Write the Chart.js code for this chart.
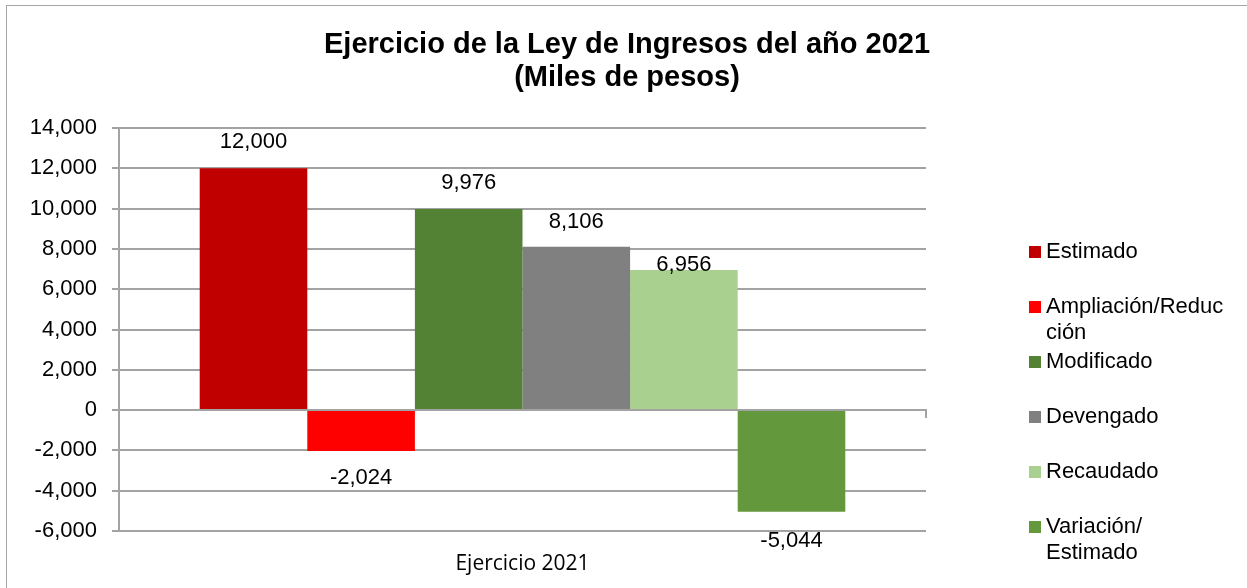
<!DOCTYPE html>
<html lang="es">
<head>
<meta charset="UTF-8">
<title>Ejercicio de la Ley de Ingresos 2021</title>
<style>
    body {
        margin: 0;
        background: #fff;
        overflow: hidden;
    }
    .frame {
        position: absolute;
        left: 6px;
        top: 5px;
        width: 1240px;
        height: 582px;
        border: 1px solid #a6a6a6;
        background: #fff;
    }
</style>
</head>
<body>
<div class="frame">
    <canvas id="chart" width="1240" height="582"></canvas>
</div>
<script src="https://cdn.jsdelivr.net/npm/chart.js"></script>
<script>
    // data
    const chartTitle = ['Ejercicio de la Ley de Ingresos del año 2021', '(Miles de pesos)'];
    const categories = ['Ejercicio 2021'];
    const seriesNames = ['Estimado', 'Ampliación/Reducción', 'Modificado', 'Devengado', 'Recaudado', 'Variación/ Estimado'];
    const seriesValues = [12000, -2024, 9976, 8106, 6956, -5044];
    const seriesColors = ['#C00000', '#FF0000', '#548235', '#808080', '#A9D08E', '#63983D'];
    const yTicks = { min: -6000, max: 14000, step: 2000 };

    const fmt = v => Number(v).toLocaleString('en-US');
    const gridGray = '#a3a3a3';
    const textFont = '"Liberation Sans", Arial, sans-serif';

    // title across the whole frame, not only the plot
    const frameTitle = {
        id: 'frameTitle',
        afterDraw(chart) {
            const ctx = chart.ctx;
            ctx.save();
            ctx.font = 'bold 29px ' + textFont;
            ctx.fillStyle = '#000';
            ctx.textAlign = 'center';
            ctx.textBaseline = 'middle';
            chartTitle.forEach((line, i) => ctx.fillText(line, chart.width / 2, 39 + i * 33));
            ctx.restore();
        }
    };

    // value labels above / below each bar
    const valueLabels = {
        id: 'valueLabels',
        afterDatasetsDraw(chart) {
            const ctx = chart.ctx;
            const gap = [26, 27, 26, 25, 5, 29];
            ctx.save();
            ctx.font = '22px ' + textFont;
            ctx.fillStyle = '#000';
            ctx.textAlign = 'center';
            ctx.textBaseline = 'middle';
            chart.data.datasets.forEach((ds, i) => {
                const bar = chart.getDatasetMeta(i).data[0];
                const v = ds.data[0];
                const y = v >= 0 ? bar.y - gap[i] : bar.y + gap[i];
                ctx.fillText(fmt(v), bar.x, y);
            });
            ctx.restore();
        }
    };

    // small tick where the category axis meets zero on the right
    const zeroTick = {
        id: 'zeroTick',
        afterDraw(chart) {
            const ctx = chart.ctx;
            const y0 = chart.scales.y.getPixelForValue(0);
            const x = chart.chartArea.right;
            ctx.save();
            ctx.strokeStyle = gridGray;
            ctx.lineWidth = 2;
            ctx.beginPath();
            ctx.moveTo(x, y0 - 1);
            ctx.lineTo(x, y0 + 8);
            ctx.stroke();
            ctx.restore();
        }
    };

    // right side legend, text wrapped like the original
    function wrap(ctx, text, maxW) {
        const lines = [];
        let cur = '';
        text.split(' ').forEach(word => {
            const tryLine = cur ? cur + ' ' + word : word;
            if (ctx.measureText(tryLine).width <= maxW) {
                cur = tryLine;
                return;
            }
            if (cur) lines.push(cur);
            cur = '';
            for (const ch of word) {
                if (ctx.measureText(cur + ch).width > maxW) {
                    lines.push(cur);
                    cur = ch;
                } else {
                    cur += ch;
                }
            }
        });
        if (cur) lines.push(cur);
        return lines;
    }

    const sideLegend = {
        id: 'sideLegend',
        afterDraw(chart) {
            const ctx = chart.ctx;
            const boxX = 1022, textX = 1039, top = 246, step = 55, lineH = 26;
            ctx.save();
            ctx.font = '22px ' + textFont;
            ctx.textBaseline = 'middle';
            ctx.textAlign = 'left';
            chart.data.datasets.forEach((ds, i) => {
                const y = top + i * step;
                ctx.fillStyle = ds.backgroundColor;
                ctx.fillRect(boxX, y - 6, 12, 12);
                ctx.fillStyle = '#000';
                wrap(ctx, ds.label, 184).forEach((line, j) => {
                    ctx.fillText(line, textX, y + j * lineH);
                });
            });
            ctx.restore();
        }
    };

    new Chart(document.getElementById('chart'), {
        type: 'bar',
        data: {
            labels: categories,
            datasets: seriesNames.map((name, i) => ({
                label: name,
                data: [seriesValues[i]],
                backgroundColor: seriesColors[i],
                categoryPercentage: 0.8,
                barPercentage: 1.0
            }))
        },
        options: {
            responsive: false,
            animation: false,
            layout: { padding: { left: 18, right: 321, top: 122, bottom: 12 } },
            plugins: {
                legend: { display: false },
                tooltip: { enabled: false },
                title: { display: false }
            },
            scales: {
                x: {
                    grid: { display: false, drawTicks: false },
                    border: { display: false },
                    ticks: {
                        color: '#000',
                        padding: 20,
                        font: { family: '"Open Sans", sans-serif', size: 21 }
                    },
                    afterFit(scale) { scale.height = 45; }
                },
                y: {
                    min: yTicks.min,
                    max: yTicks.max,
                    grid: { color: gridGray, lineWidth: 2, tickLength: 7 },
                    border: { color: gridGray, width: 2 },
                    ticks: {
                        stepSize: yTicks.step,
                        color: '#000',
                        padding: 15,
                        font: { family: textFont, size: 22 },
                        callback: v => fmt(v)
                    },
                    afterFit(scale) { scale.width = 94; }
                }
            }
        },
        plugins: [frameTitle, valueLabels, zeroTick, sideLegend]
    });
</script>
</body>
</html>
